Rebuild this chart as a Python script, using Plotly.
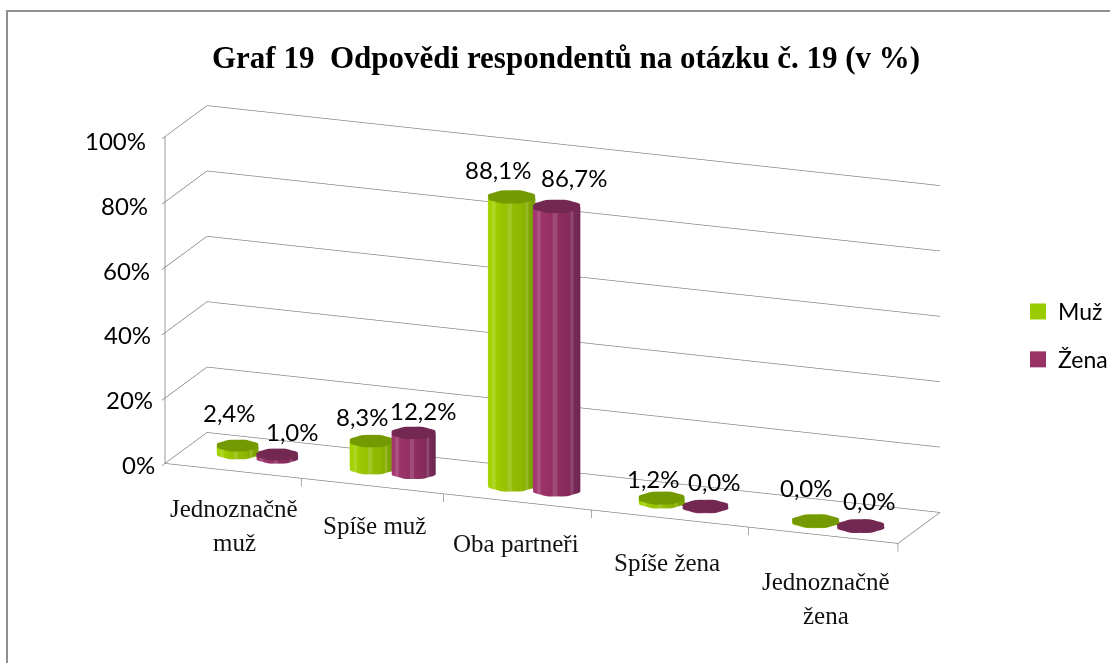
import numpy as np
import plotly.graph_objects as go

CATEGORIES = [["Jednoznačně", "muž"], ["Spíše muž"], ["Oba partneři"], ["Spíše žena"], ["Jednoznačně", "žena"]]
SERIES_NAMES = ["Muž", "Žena"]
MUZ = [2.4, 8.3, 88.1, 1.2, 0.0]
ZENA = [1.0, 12.2, 86.7, 0.0, 0.0]
Z_TICKS = [0, 20, 40, 60, 80, 100]
TITLE = "Graf 19  Odpovědi respondentů na otázku č. 19 (v %)"

# layout of the category slots on the floor of the box
SLOT_X = [0.486, 1.410, 2.386, 3.411, 4.487]
SLOT_Y = [0.504, 0.500, 0.460, 0.440, 0.365]
SLOT_R = [0.88, 0.93, 1.0, 0.97, 1.0]
TICK_X = [0.93, 1.90, 2.91, 3.98, 5.0]
CAT_SHIFT = [(-4, -37), (-10.5, -38), (-15.5, -40), (-11, -43), (1, -46)]
LABEL_SHIFT = [[(-8.5, 33), (-9.5, 25), (-14, 27.5), (-8.2, 20), (-9, 34)],
               [(15, 23), (8.9, 22.5), (17, 29), (9.2, 25.5), (9, 26)]]

GRID = "#7c7c7c"
LEGEND_COLORS = ["#99cc00", "#993366"]
SIDE_COLORS = [("#a6d600", "#90ba00", "#749800"), ("#a4386f", "#8e2d60", "#682550")]
TOP_COLORS = ["#739a00", "#722850"]
SERIF = "Liberation Serif"
SANS = "Lato"

RX, RY = 0.1535, 0.206


def hex2rgb(h):
    return np.array([int(h[i:i + 2], 16) for i in (1, 3, 5)], float)


def mix(a, b, t):
    c = hex2rgb(a) * (1 - t) + hex2rgb(b) * t
    return "#%02x%02x%02x" % tuple(int(round(v)) for v in c)


def cylinder(cx, cy, rad, value, sides, top, n=32):
    th = np.linspace(0, 2 * np.pi, n, endpoint=False)
    r = rad * (1 + 0.035 * np.cos(8 * th))
    xs = cx + RX * r * np.cos(th)
    ys = cy + RY * r * np.sin(th)
    h = max(value, 0.15)
    X = np.r_[xs, xs, cx]
    Y = np.r_[ys, ys, cy]
    Z = np.r_[np.zeros(n), np.full(n, h), h]
    I, J, K, C = [], [], [], []
    for a in range(n):
        b = (a + 1) % n
        t = np.cos(th[a] + np.pi / n - 0.37)  # facet position across the cylinder as seen by the camera
        col = mix(sides[1], sides[0], -t) if t < 0 else mix(sides[1], sides[2], t * t)
        if a % 4 == 1:
            col = mix(col, "#ffffff", 0.14)
        I += [a, b]; J += [b, b + n]; K += [a + n, a + n]; C += [col, col]
    for a in range(n):
        b = (a + 1) % n
        I.append(n + a); J.append(n + b); K.append(2 * n); C.append(top)
    return go.Mesh3d(x=X, y=Y, z=Z, i=I, j=J, k=K, facecolor=C, flatshading=True, hoverinfo="skip",
                     showlegend=False, showscale=False,
                     lighting=dict(ambient=1, diffuse=0, specular=0, roughness=1, fresnel=0))


fig = go.Figure()


def segs(pts):
    xs, ys, zs = [], [], []
    for p, q in pts:
        xs += [p[0], q[0], None]; ys += [p[1], q[1], None]; zs += [p[2], q[2], None]
    fig.add_trace(go.Scatter3d(x=xs, y=ys, z=zs, mode="lines", line=dict(color=GRID, width=1.3),
                               hoverinfo="skip", showlegend=False))


lines = []
for z in Z_TICKS:
    lines.append(((0, 0, z), (0, 1, z)))
    lines.append(((0, 1, z), (5, 1, z)))
    lines.append(((0, -0.07, z), (0, 0, z)))
lines.append(((0, 0, 0), (0, 0, 100)))
lines.append(((0, 0, 0), (5, 0, 0)))
lines.append(((5, 0, 0), (5, 1, 0)))
for tx in TICK_X:
    lines.append(((tx, 0, 0), (tx, 0, -2.5)))
segs(lines)

for s, vals in enumerate([MUZ, ZENA]):
    for i, v in enumerate(vals):
        fig.add_trace(cylinder(SLOT_X[i] + (s - 0.5) * 2 * RX * SLOT_R[i], SLOT_Y[i], SLOT_R[i], v,
                               SIDE_COLORS[s], TOP_COLORS[s]))

for s, name in enumerate(SERIES_NAMES):
    fig.add_trace(go.Scatter(x=[None], y=[None], mode="markers", name=name, legendgroup=name,
                             marker=dict(symbol="square", size=19, color=LEGEND_COLORS[s])))

ann = []
for z in Z_TICKS:
    ann.append(dict(x=0, y=0, z=z, text=f"{z}%", showarrow=False, xanchor="right",
                    xshift=-8 - 9 * z / 100, yshift=-1 - 3 * z / 100,
                    font=dict(family=SANS, size=24, color="#000")))
for i, c in enumerate(CATEGORIES):
    for l, t in enumerate(c):
        ann.append(dict(x=i + 0.5, y=0, z=0, text=t, showarrow=False,
                        xshift=CAT_SHIFT[i][0], yshift=CAT_SHIFT[i][1] - 34 * l,
                        font=dict(family=SERIF, size=25, color="#111")))
for s, vals in enumerate([MUZ, ZENA]):
    for i, v in enumerate(vals):
        ann.append(dict(x=SLOT_X[i] + (s - 0.5) * 2 * RX * SLOT_R[i], y=SLOT_Y[i], z=v,
                        text=f"{v:.1f}%".replace(".", ","), showarrow=False,
                        xshift=LABEL_SHIFT[s][i][0], yshift=LABEL_SHIFT[s][i][1],
                        font=dict(family=SANS, size=24, color="#000")))

hidden = dict(visible=False, showgrid=False, zeroline=False, showticklabels=False, showbackground=False,
              showspikes=False)
fig.update_layout(
    width=1110, height=663, margin=dict(l=0, r=0, t=0, b=0, pad=0, autoexpand=False), paper_bgcolor="white",
    plot_bgcolor="rgba(0,0,0,0)", font=dict(family=SANS),
    xaxis=dict(visible=False, domain=[0, 1]), yaxis=dict(visible=False, domain=[0, 1]),
    scene=dict(domain=dict(x=[0, 1], y=[0, 1]),
               xaxis=dict(range=[-1, 6], **hidden), yaxis=dict(range=[-1, 2], **hidden),
               zaxis=dict(range=[-20, 120], **hidden),
               aspectmode="manual",
               aspectratio=dict(x=2.369 * 7 / 5, y=0.3528 * 3, z=1.0283 * 1.4),
               camera=dict(eye=dict(x=0.6976, y=-1.7929, z=0.5474),
                           center=dict(x=0.00919, y=-0.00288, z=-0.02024),
                           up=dict(x=0, y=0, z=1), projection=dict(type="orthographic")),
               annotations=ann),
    annotations=[dict(xref="paper", yref="paper", x=566 / 1110, y=1 - 57 / 663, yanchor="middle",
                      text=f"<b>{TITLE}</b>", showarrow=False,
                      font=dict(family=SERIF, size=31, color="#000"))],
    shapes=[dict(type="rect", xref="paper", yref="paper", x0=7 / 1110, x1=1.02, y0=-0.02, y1=1 - 11 / 663,
                 line=dict(color="#8e8e8e", width=2), fillcolor="rgba(0,0,0,0)")],
    legend=dict(x=1018 / 1110, y=1 - 290 / 663, xanchor="left", yanchor="top", tracegroupgap=15,
                font=dict(family=SANS, size=23, color="#000"), bgcolor="rgba(0,0,0,0)", itemwidth=30),
    showlegend=True,
)
fig.write_html("out.html", config=dict(displayModeBar=False),
               post_script="document.body.style.margin='0';document.body.style.overflow='hidden';")
